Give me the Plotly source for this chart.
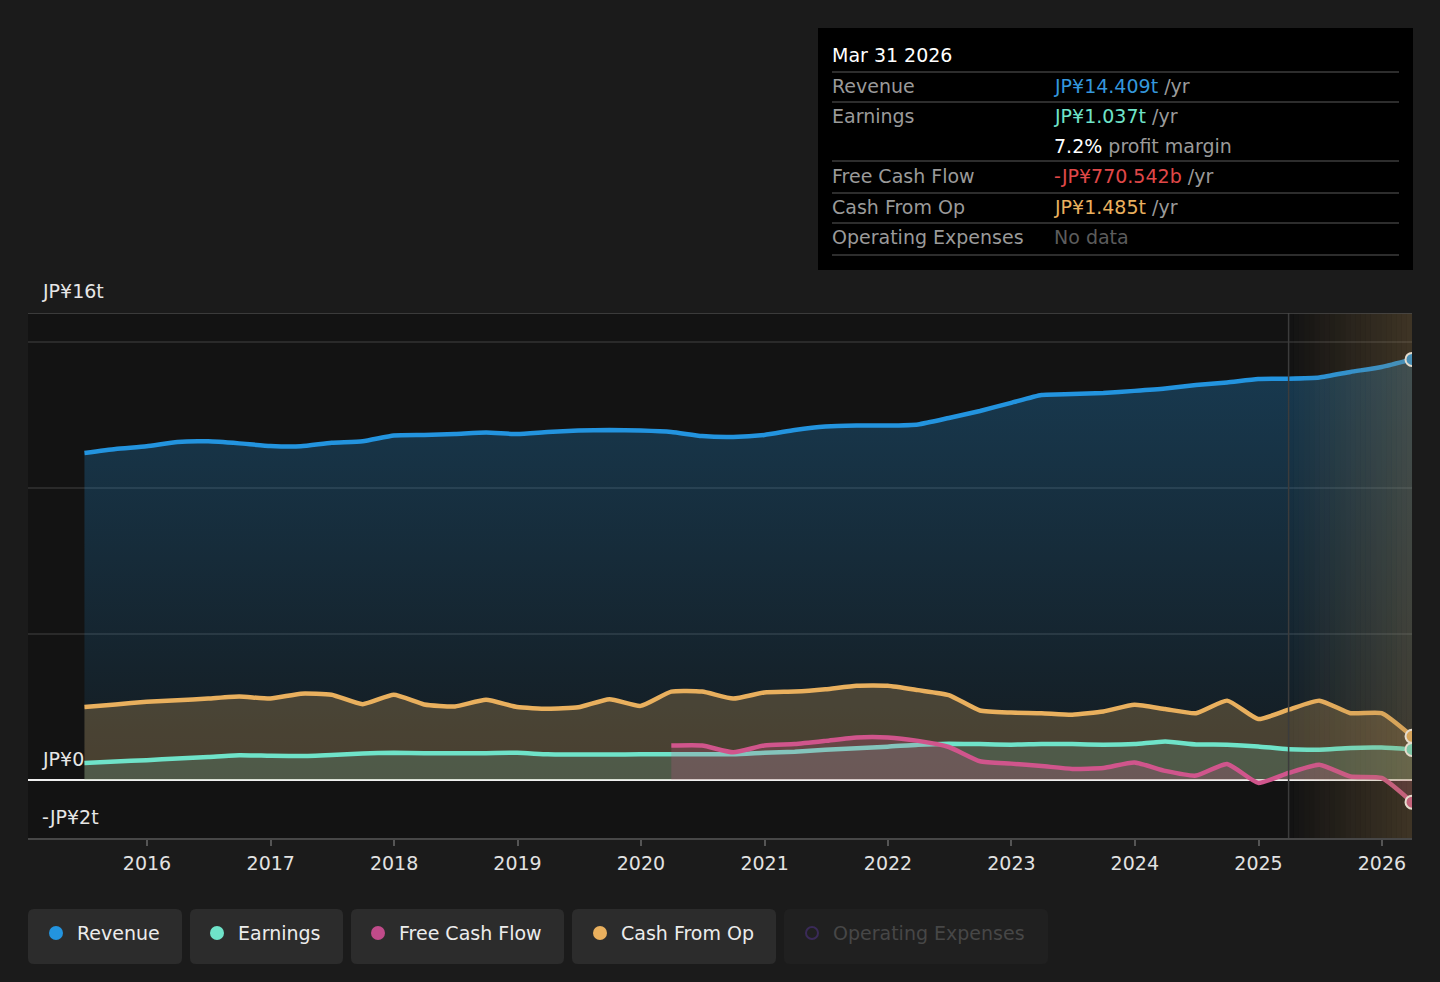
import plotly.graph_objects as go
import pandas as pd

# ---------------- data (trillions of JP¥) ----------------
quarters = pd.date_range("2015-06-30", "2026-03-31", freq="QE").strftime("%Y-%m-%d").tolist()

revenue = [11.20, 11.34, 11.43, 11.58, 11.60, 11.53, 11.44, 11.43, 11.55, 11.60,
           11.80, 11.82, 11.85, 11.90, 11.85, 11.92, 11.97, 11.99, 11.97, 11.92,
           11.78, 11.75, 11.82, 11.99, 12.11, 12.14, 12.14, 12.18, 12.40, 12.64,
           12.92, 13.19, 13.22, 13.26, 13.33, 13.41, 13.53, 13.62, 13.74, 13.75,
           13.79, 13.98, 14.15, 14.409]

earnings = [0.57, 0.62, 0.67, 0.73, 0.78, 0.84, 0.82, 0.81, 0.85, 0.90,
            0.92, 0.91, 0.91, 0.91, 0.92, 0.87, 0.86, 0.86, 0.87, 0.87,
            0.87, 0.87, 0.92, 0.96, 1.03, 1.08, 1.13, 1.20, 1.23, 1.22,
            1.20, 1.22, 1.22, 1.20, 1.22, 1.31, 1.21, 1.20, 1.14, 1.04,
            1.03, 1.09, 1.10, 1.037]

cash_from_op = [2.49, 2.58, 2.67, 2.72, 2.78, 2.85, 2.78, 2.95, 2.91, 2.59,
                2.91, 2.58, 2.51, 2.74, 2.49, 2.43, 2.48, 2.76, 2.53, 3.02,
                3.02, 2.78, 2.99, 3.02, 3.10, 3.22, 3.22, 3.07, 2.90, 2.37,
                2.30, 2.28, 2.23, 2.34, 2.57, 2.42, 2.28, 2.71, 2.08, 2.40,
                2.71, 2.28, 2.28, 1.485]

fcf_quarters = quarters[19:]
free_cash_flow = [1.17, 1.17, 0.94, 1.17, 1.22, 1.33, 1.45, 1.45, 1.33, 1.12,
                  0.63, 0.55, 0.47, 0.37, 0.40, 0.59, 0.30, 0.14, 0.54, -0.11,
                  0.23, 0.51, 0.11, 0.06, -0.770542]

year_ticks = [f"{y}-01-01" for y in range(2016, 2027)]
year_labels = [str(y) for y in range(2016, 2027)]
forecast_start = "2025-03-31"
x_range = ["2015-01-14", "2026-03-31"]
y_range = [-2, 16]

legend_names = ["Revenue", "Earnings", "Free Cash Flow", "Cash From Op", "Operating Expenses"]

# ---------------- styling ----------------
FONT = "DejaVu Sans"
C_REV = "#2394df"
C_EARN = "#6fe3c9"
C_FCF = "#d0558c"
C_CFO = "#e9b05e"
PAGE_BG = "#1b1b1b"
PLOT_BG = "#131313"
LW = 4.5
FS = 19

L, R, T, B = 28, 1412, 313, 838
W, H = R - L, B - T


def px(x):
    return (x - L) / W


def py(y):
    return (B - y) / H


def rrect(x0, y0, x1, y1, r=6):
    rx, ry = r / W, r / H
    a0, a1 = px(x0), px(x1)
    b0, b1 = py(y1), py(y0)
    return (f"M {a0+rx},{b0} L {a1-rx},{b0} Q {a1},{b0} {a1},{b0+ry} "
            f"L {a1},{b1-ry} Q {a1},{b1} {a1-rx},{b1} L {a0+rx},{b1} "
            f"Q {a0},{b1} {a0},{b1-ry} L {a0},{b0+ry} Q {a0},{b0} {a0+rx},{b0} Z")


fig = go.Figure()

fig.add_trace(go.Scatter(
    x=quarters, y=revenue, mode="lines", line=dict(color=C_REV, width=LW, shape="spline", smoothing=0.5),
    fill="tozeroy",
    fillgradient=dict(type="vertical", start=0, stop=14.4,
                      colorscale=[[0, "rgba(35,148,223,0.06)"], [1, "rgba(35,148,223,0.30)"]]),
    hoverinfo="skip"))
fig.add_trace(go.Scatter(
    x=quarters, y=cash_from_op, mode="lines", line=dict(color=C_CFO, width=LW, shape="spline", smoothing=0.5),
    fill="tozeroy", fillcolor="rgba(233,176,94,0.25)", hoverinfo="skip"))
fig.add_trace(go.Scatter(
    x=quarters, y=earnings, mode="lines", line=dict(color=C_EARN, width=LW, shape="spline", smoothing=0.5),
    fill="tozeroy", fillcolor="rgba(111,227,201,0.16)", hoverinfo="skip"))
fig.add_trace(go.Scatter(
    x=fcf_quarters, y=free_cash_flow, mode="lines", line=dict(color=C_FCF, width=LW, shape="spline", smoothing=0.5),
    fill="tozeroy", fillcolor="rgba(208,85,140,0.22)", hoverinfo="skip"))

for xs, ys, c in [(quarters, revenue, C_REV), (quarters, cash_from_op, C_CFO),
                  (quarters, earnings, C_EARN), (fcf_quarters, free_cash_flow, C_FCF)]:
    fig.add_trace(go.Scatter(x=[xs[-1]], y=[ys[-1]], mode="markers",
                             marker=dict(size=13, color=c, line=dict(color="white", width=2)),
                             hoverinfo="skip"))

shapes = []
fs = pd.Timestamp(forecast_start)
fe = pd.Timestamp(x_range[1])
n = 24
step = (fe - fs) / n
for i in range(n):
    a = 0.30 * (i + 0.5) / n
    shapes.append(dict(type="rect", xref="x", yref="y",
                       x0=(fs + step * i).strftime("%Y-%m-%d %H:%M"),
                       x1=(fs + step * (i + 1)).strftime("%Y-%m-%d %H:%M"),
                       y0=y_range[0], y1=y_range[1], line=dict(width=0),
                       fillcolor=f"rgba(165,132,80,{a:.3f})", layer="above"))
shapes.append(dict(type="line", xref="x", yref="y", x0=forecast_start, x1=forecast_start,
                   y0=y_range[0], y1=y_range[1], line=dict(color="#3c3c3c", width=1.5), layer="above"))
shapes.append(dict(type="line", xref="paper", yref="y", x0=0, x1=1, y0=16, y1=16,
                   line=dict(color="#4a4a4a", width=1.5)))

chips = [(28, 182), (190, 343), (351, 564), (572, 776), (784, 1048)]
dot_x = [56, 217, 378, 600, 812]
text_x = [75, 236, 397, 619, 831]
dot_colors = [C_REV, C_EARN, "#c04b8a", C_CFO]
annotations = []
for i, (x0, x1) in enumerate(chips):
    shapes.append(dict(type="path", xref="paper", yref="paper", path=rrect(x0, 909, x1, 964),
                       fillcolor="#2c2c2c" if i < 4 else "#202020", line=dict(width=0)))
    if i < 4:
        r = 7
        shapes.append(dict(type="circle", xref="paper", yref="paper",
                           x0=px(dot_x[i] - r), x1=px(dot_x[i] + r), y0=py(933 + r), y1=py(933 - r),
                           fillcolor=dot_colors[i], line=dict(width=0)))
    else:
        r = 6
        shapes.append(dict(type="circle", xref="paper", yref="paper",
                           x0=px(dot_x[i] - r), x1=px(dot_x[i] + r), y0=py(933 + r), y1=py(933 - r),
                           fillcolor="rgba(0,0,0,0)", line=dict(color="#3a2a58", width=2)))
    annotations.append(dict(xref="paper", yref="paper", x=px(text_x[i]), y=py(933),
                            xanchor="left", yanchor="middle", showarrow=False,
                            text=legend_names[i],
                            font=dict(family=FONT, size=FS, color="#ececec" if i < 4 else "#474747")))

shapes.append(dict(type="rect", xref="paper", yref="paper", x0=px(818), x1=px(1413),
                   y0=py(270), y1=py(28), fillcolor="#000000", line=dict(width=0)))
for yy in [72, 102, 161, 193, 223, 255]:
    shapes.append(dict(type="line", xref="paper", yref="paper", x0=px(832), x1=px(1399),
                       y0=py(yy), y1=py(yy), line=dict(color="#3d3d3d", width=1.5)))

annotations.append(dict(xref="paper", yref="paper", x=px(830), y=py(55), xanchor="left", yanchor="middle",
                        showarrow=False, text="Mar 31 2026", font=dict(family=FONT, size=FS, color="#ffffff")))
GREY = "#9a9a9a"
rows = [
    (86, "Revenue", f"<span style='color:#3497dc'>JP¥{revenue[-1]:.3f}t</span> /yr"),
    (116, "Earnings", f"<span style='color:{C_EARN}'>JP¥{earnings[-1]:.3f}t</span> /yr"),
    (146, "", f"<span style='color:#ffffff'>{earnings[-1] / revenue[-1] * 100:.1f}%</span> profit margin"),
    (176, "Free Cash Flow", f"<span style='color:#e04848'>-JP¥{abs(free_cash_flow[-1]) * 1000:.3f}b</span> /yr"),
    (207, "Cash From Op", f"<span style='color:{C_CFO}'>JP¥{cash_from_op[-1]:.3f}t</span> /yr"),
    (237, "Operating Expenses", "<span style='color:#5c5c5c'>No data</span>"),
]
for yy, lab, val in rows:
    if lab:
        annotations.append(dict(xref="paper", yref="paper", x=px(830), y=py(yy), xanchor="left",
                                yanchor="middle", showarrow=False, text=lab,
                                font=dict(family=FONT, size=FS, color=GREY)))
    annotations.append(dict(xref="paper", yref="paper", x=px(1052), y=py(yy), xanchor="left",
                            yanchor="middle", showarrow=False, text=val,
                            font=dict(family=FONT, size=FS, color=GREY)))

for yy, txt in [(291, "JP¥16t"), (759, "JP¥0"), (817, "-JP¥2t")]:
    annotations.append(dict(xref="paper", yref="paper", x=px(40), y=py(yy), xanchor="left",
                            yanchor="middle", showarrow=False, text=txt,
                            font=dict(family=FONT, size=FS, color="#e6e6e6")))

fig.update_layout(
    width=1440, height=982,
    margin=dict(l=L, r=1440 - R, t=T, b=982 - B),
    paper_bgcolor=PAGE_BG, plot_bgcolor=PLOT_BG,
    showlegend=False,
    shapes=shapes, annotations=annotations,
    xaxis=dict(type="date", range=x_range, tickvals=year_ticks, ticktext=year_labels,
               showgrid=False, zeroline=False, showline=True, linecolor="#474747", linewidth=1.5,
               ticks="outside", ticklen=6, tickcolor="#555555", tickwidth=1.5,
               tickfont=dict(family=FONT, size=FS, color="#e2e2e2"), ticklabelstandoff=1),
    yaxis=dict(range=y_range, tickvals=[5, 10, 15], showticklabels=False, gridcolor="#2a2a2a",
               gridwidth=1.5, zeroline=True, zerolinecolor="#f0f0f0", zerolinewidth=2,
               showline=False, fixedrange=True),
    font=dict(family=FONT),
    hovermode=False,
)

fig.write_html("out.html", config={"displayModeBar": False},
               post_script="document.body.style.margin='0';document.body.style.background='#1b1b1b';")
